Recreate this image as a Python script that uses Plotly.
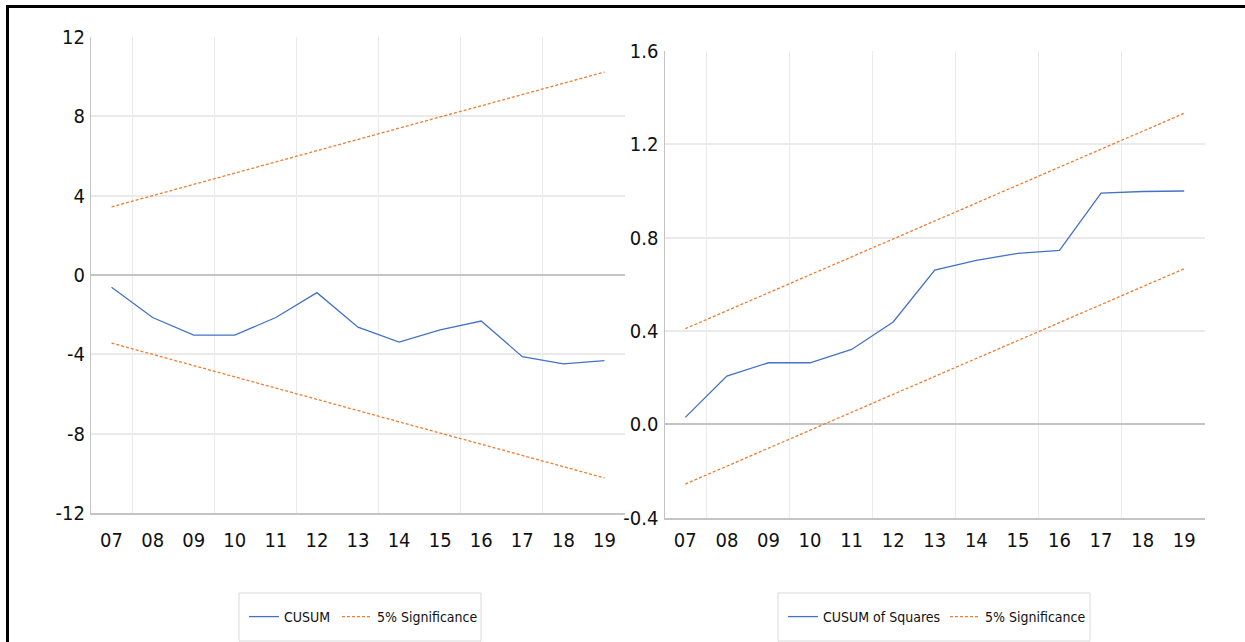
import plotly.graph_objects as go

# Observation years and their axis labels
years = list(range(2007, 2020))
year_labels = ["07", "08", "09", "10", "11", "12", "13", "14", "15", "16", "17", "18", "19"]

# CUSUM statistic with its 5% significance bounds
cusum = [-0.62, -2.14, -3.03, -3.03, -2.14, -0.89, -2.63, -3.38, -2.76, -2.32, -4.11, -4.48, -4.31]
cusum_upper = [3.43, 4.0, 4.56, 5.13, 5.69, 6.26, 6.83, 7.39, 7.96, 8.52, 9.09, 9.65, 10.22]
cusum_lower = [-3.43, -4.0, -4.56, -5.13, -5.69, -6.26, -6.83, -7.39, -7.96, -8.52, -9.09, -9.65, -10.22]
cusum_ticks = [-12, -8, -4, 0, 4, 8, 12]
cusum_tick_labels = ["-12", "-8", "-4", "0", "4", "8", "12"]

# CUSUM of squares with its 5% significance bounds
cusumsq = [0.03, 0.207, 0.264, 0.264, 0.321, 0.439, 0.661, 0.703, 0.733, 0.746, 0.991, 0.998, 1.0]
cusumsq_upper = [0.41, 0.487, 0.564, 0.641, 0.718, 0.795, 0.872, 0.949, 1.026, 1.103, 1.18, 1.256, 1.333]
cusumsq_lower = [-0.256, -0.179, -0.102, -0.025, 0.051, 0.128, 0.205, 0.282, 0.359, 0.436, 0.513, 0.59, 0.667]
cusumsq_ticks = [-0.4, 0.0, 0.4, 0.8, 1.2, 1.6]
cusumsq_tick_labels = ["-0.4", "0.0", "0.4", "0.8", "1.2", "1.6"]

W, H = 1245, 642
BLUE = "#4472C4"
ORANGE = "#ED7D31"
FONT = "DejaVu Sans Condensed, Liberation Sans Narrow, Open Sans, sans-serif"
GRID = "#EAEAEA"
AXIS = "#C4C4C4"
DASH = "3px,2px"


def px_x(p):
    return p / W


def px_y(p):
    return 1 - p / H


fig = go.Figure()

fig.add_trace(go.Scatter(x=years, y=cusum, mode="lines", name="CUSUM",
                         line=dict(color=BLUE, width=1.3), xaxis="x", yaxis="y",
                         legend="legend"))
fig.add_trace(go.Scatter(x=years, y=cusum_upper, mode="lines", name="5% Significance",
                         line=dict(color=ORANGE, width=1.3, dash=DASH),
                         xaxis="x", yaxis="y", legend="legend2", legendgroup="sig1"))
fig.add_trace(go.Scatter(x=years, y=cusum_lower, mode="lines", name="5% Significance",
                         line=dict(color=ORANGE, width=1.3, dash=DASH),
                         xaxis="x", yaxis="y", legend="legend2", legendgroup="sig1",
                         showlegend=False))

fig.add_trace(go.Scatter(x=years, y=cusumsq, mode="lines", name="CUSUM of Squares",
                         line=dict(color=BLUE, width=1.3), xaxis="x2", yaxis="y2",
                         legend="legend3"))
fig.add_trace(go.Scatter(x=years, y=cusumsq_upper, mode="lines", name="5% Significance",
                         line=dict(color=ORANGE, width=1.3, dash=DASH),
                         xaxis="x2", yaxis="y2", legend="legend4", legendgroup="sig2"))
fig.add_trace(go.Scatter(x=years, y=cusumsq_lower, mode="lines", name="5% Significance",
                         line=dict(color=ORANGE, width=1.3, dash=DASH),
                         xaxis="x2", yaxis="y2", legend="legend4", legendgroup="sig2",
                         showlegend=False))

boundaries = [2007.5, 2009.5, 2011.5, 2013.5, 2015.5, 2017.5]


def xaxis(domain, anchor, standoff):
    return dict(domain=domain, anchor=anchor, range=[2006.5, 2019.5],
                tickmode="array", tickvals=years, ticktext=year_labels,
                showgrid=False, zeroline=False, showline=True, linecolor=AXIS,
                linewidth=1.5, ticks="", ticklabelstandoff=standoff,
                tickfont=dict(family=FONT, size=20, color="#111111"),
                minor=dict(tickvals=boundaries, showgrid=True, gridcolor=GRID,
                           gridwidth=1, ticks=""),
                fixedrange=True)


def yaxis(domain, anchor, rng, tickvals, ticktext, grids):
    return dict(domain=domain, anchor=anchor, range=rng, tickmode="array",
                tickvals=tickvals, ticktext=ticktext, showgrid=False,
                zeroline=True, zerolinecolor=AXIS, zerolinewidth=1.5,
                showline=True, linecolor=AXIS, linewidth=1.2,
                ticks="", ticklabelstandoff=1,
                tickfont=dict(family=FONT, size=20, color="#111111"),
                minor=dict(tickvals=grids, showgrid=True, gridcolor=GRID,
                           gridwidth=1.5, ticks=""),
                fixedrange=True)


def legend_at(x_px):
    return dict(orientation="h", x=px_x(x_px), y=px_y(617), xanchor="left",
                yanchor="middle", borderwidth=0, bgcolor="rgba(0,0,0,0)",
                font=dict(family=FONT, size=14, color="#111111"))


fig.update_layout(
    width=W, height=H,
    showlegend=True,
    margin=dict(l=0, r=0, t=0, b=0, autoexpand=False),
    paper_bgcolor="white", plot_bgcolor="white",
    xaxis=xaxis([px_x(91), px_x(625)], "y", 8),
    yaxis=yaxis([px_y(513.3), px_y(36.7)], "x", [-12, 12], cusum_ticks,
                cusum_tick_labels, [-8, -4, 4, 8]),
    xaxis2=xaxis([px_x(664.5), px_x(1205)], "y2", 4),
    yaxis2=yaxis([px_y(517.7), px_y(51)], "x2", [-0.4, 1.6], cusumsq_ticks,
                 cusumsq_tick_labels, [0.4, 0.8, 1.2]),
    legend=legend_at(244),
    legend2=legend_at(337),
    legend3=legend_at(783),
    legend4=legend_at(945),
    shapes=[
        # legend frames
        dict(type="rect", xref="paper", yref="paper", x0=px_x(239), x1=px_x(481),
             y0=px_y(641), y1=px_y(593), line=dict(color="#D9D9D9", width=1)),
        dict(type="rect", xref="paper", yref="paper", x0=px_x(778), x1=px_x(1090),
             y0=px_y(641), y1=px_y(593), line=dict(color="#D9D9D9", width=1)),
        # outer frame edges
        dict(type="line", xref="paper", yref="paper", x0=px_x(7), x1=1,
             y0=px_y(6.5), y1=px_y(6.5), line=dict(color="black", width=3)),
        dict(type="line", xref="paper", yref="paper", x0=px_x(7.5), x1=px_x(7.5),
             y0=px_y(5), y1=0, line=dict(color="black", width=3)),
    ],
)

fig.write_html("out.html")
